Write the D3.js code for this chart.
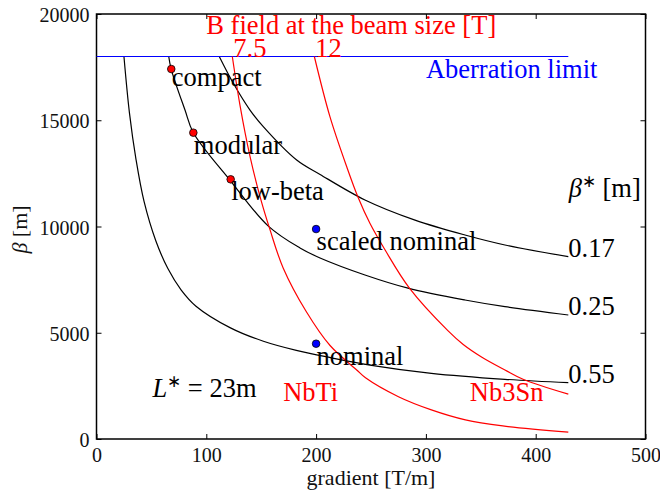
<!DOCTYPE html>
<html>
<head>
<meta charset="utf-8">
<script src="https://cdn.jsdelivr.net/npm/d3@7"></script>
<style>
    body { margin: 0; background: #fff; }
    svg { display: block; }
    svg text { font-family: 'Liberation Serif', 'Times New Roman', serif; }
</style>
</head>
<body>
<svg class="chart" width="660" height="494"></svg>
<script>
//Axis ticks
var xTicks = [0, 100, 200, 300, 400, 500];
var yTicks = [0, 5000, 10000, 15000, 20000];

//Lattice curves for each beta* value, [gradient T/m, beta m]
var betaStarNames = ['0.17', '0.25', '0.55'];
var beta017 = [[111.8, 18000], [124.6, 16740], [139.8, 15480], [151.9, 14700], [182.3, 13130], [203.6, 12450],
    [244.5, 11250], [290.1, 10300], [335.6, 9600], [372, 9130], [429.7, 8580]];
var beta025 = [[65.8, 18000], [68, 17410], [80.6, 15480], [88.2, 14410], [122.2, 12140], [156.5, 10020],
    [185.3, 8990], [203.6, 8520], [244.5, 7720], [283.7, 7100], [335.6, 6540], [372, 6226], [429.7, 5835]];
var beta055 = [[25, 18000], [30, 15350], [36, 13150], [43.3, 11180], [54, 9330], [65, 8020], [77, 7020],
    [90.6, 6250], [122, 5230], [152, 4600], [182, 4170], [213, 3830], [249, 3480], [305, 3090], [372, 2809], [429.7, 2650]];

//Field at the beam size curves
var fieldNames = ['7.5', '12'];
var field75 = [[123.7, 18000], [130.7, 15700], [139.8, 13300], [149.5, 11300], [158, 9850], [170, 8050],
    [191, 6000], [212.7, 4400], [237, 3250], [245, 2880], [275, 1990], [305, 1370], [336, 900], [370, 615], [429.7, 320]];
var field12 = [[198.4, 18000], [212.6, 15170], [227.9, 12810], [238.4, 11350], [249, 10150], [263, 8880],
    [285, 7100], [320, 5100], [334, 4450], [351, 3850], [372, 3250], [389, 2800], [429.7, 2110]];

//Aberration limit
var aberrationLimit = [[0, 18000], [429.7, 18000]];

//Layout points
var layoutNames = ['compact', 'modular', 'low-beta'];
var layoutGradient = [68.1, 88.2, 122.2];
var layoutBeta = [17410, 14415, 12220];
var nominalNames = ['scaled nominal', 'nominal'];
var nominalGradient = [200, 200];
var nominalBeta = [9880, 4485];

(function(){
    //Plot area
    var plot = {left: 96.5, right: 645.5, top: 14, bottom: 439};
    var font = "'Liberation Serif', 'Times New Roman', serif";
    var annoSize = '26.5px';

    var x = d3.scaleLinear().domain([0, 500]).range([plot.left, plot.right]);
    var y = d3.scaleLinear().domain([0, 20000]).range([plot.bottom, plot.top]);

    var svg = d3.select('.chart');

    //Curve generator for all the lines
    var line = d3.line()
        .x(function(d){ return x(d[0]); })
        .y(function(d){ return y(d[1]); })
        .curve(d3.curveCatmullRom.alpha(0.5));

    /**
     * Adds a text at a data position, with a pixel offset
     */
    var addText = function(gx, by, str, color, dx, dy){
        return svg.append('text')
            .attr('x', x(gx) + (dx || 0))
            .attr('y', y(by) + (dy || 0))
            .attr('font-family', font)
            .style('font-size', annoSize)
            .attr('fill', color)
            .text(str);
    };

    //Axes, ticks pointing inwards
    var bottom = svg.append('g')
        .attr('transform', 'translate(0,' + plot.bottom + ')')
        .call(d3.axisBottom(x).tickValues(xTicks).tickSizeInner(-5).tickSizeOuter(0).tickFormat(d3.format('d')));
    bottom.selectAll('text').attr('y', 23).attr('dy', null);

    var left = svg.append('g')
        .attr('transform', 'translate(' + plot.left + ',0)')
        .call(d3.axisLeft(y).tickValues(yTicks).tickSizeInner(-5).tickSizeOuter(0).tickFormat(d3.format('d')));
    left.selectAll('text').attr('x', -7).attr('dy', '0.38em');

    svg.append('g')
        .attr('transform', 'translate(0,' + plot.top + ')')
        .call(d3.axisTop(x).tickValues(xTicks).tickSizeInner(-5).tickSizeOuter(0).tickFormat(''));
    svg.append('g')
        .attr('transform', 'translate(' + plot.right + ',0)')
        .call(d3.axisRight(y).tickValues(yTicks).tickSizeInner(-5).tickSizeOuter(0).tickFormat(''));

    svg.selectAll('.domain').remove();
    svg.selectAll('g').attr('font-family', font).attr('font-size', null);
    svg.selectAll('.tick text')
        .style('font-size', '20px')
        .attr('fill', '#111');
    svg.selectAll('.tick line').attr('stroke-width', 1);

    //Frame
    svg.append('rect')
        .attr('x', plot.left)
        .attr('y', plot.top)
        .attr('width', plot.right - plot.left)
        .attr('height', plot.bottom - plot.top)
        .attr('fill', 'none')
        .attr('stroke', '#000')
        .attr('stroke-width', 1.5);

    //Axis titles
    svg.append('text')
        .attr('x', (plot.left + plot.right) / 2)
        .attr('y', 485)
        .attr('text-anchor', 'middle')
        .attr('font-family', font)
        .style('font-size', '22px')
        .attr('fill', '#111')
        .text('gradient [T/m]');

    var yTitle = svg.append('text')
        .attr('transform', 'translate(27,' + ((plot.top + plot.bottom) / 2 + 3) + ') rotate(-90)')
        .attr('text-anchor', 'middle')
        .attr('font-family', font)
        .style('font-size', '22px')
        .attr('fill', '#111');
    yTitle.append('tspan').style('font-style', 'italic').text('β');
    yTitle.append('tspan').text('\u00a0[m]');

    //Lattice curves
    var betaCurves = [beta017, beta025, beta055];
    betaCurves.forEach(function(c, i){
        svg.append('path')
            .attr('d', line(c))
            .attr('fill', 'none')
            .attr('stroke', '#000')
            .attr('stroke-width', 1.2);
        //Label at the end of the curve
        var last = c[c.length - 1];
        addText(last[0], last[1], betaStarNames[i], '#000', 0, 0);
    });

    //Aberration limit line
    svg.append('path')
        .attr('d', line(aberrationLimit))
        .attr('fill', 'none')
        .attr('stroke', '#0000ff')
        .attr('stroke-width', 1.2);

    //Field curves, labelled at their start on the aberration limit
    var fieldCurves = [field75, field12];
    fieldCurves.forEach(function(c, i){
        svg.append('path')
            .attr('d', line(c))
            .attr('fill', 'none')
            .attr('stroke', '#ff0000')
            .attr('stroke-width', 1.2);
        addText(c[0][0], c[0][1], fieldNames[i], '#ff0000', 1, 0);
    });

    //Layout markers with labels
    var labelDy = [17, 21, 21];
    layoutNames.forEach(function(name, i){
        svg.append('circle')
            .attr('cx', x(layoutGradient[i]))
            .attr('cy', y(layoutBeta[i]))
            .attr('r', 3.8)
            .attr('fill', '#ff0000')
            .attr('stroke', '#000')
            .attr('stroke-width', 0.8);
        addText(layoutGradient[i], layoutBeta[i], name, '#000', 0.5, labelDy[i]);
    });

    nominalNames.forEach(function(name, i){
        svg.append('circle')
            .attr('cx', x(nominalGradient[i]))
            .attr('cy', y(nominalBeta[i]))
            .attr('r', 3.8)
            .attr('fill', '#0000ff')
            .attr('stroke', '#000')
            .attr('stroke-width', 0.8);
        addText(nominalGradient[i], nominalBeta[i], name, '#000', 0.5, 21);
    });

    //Other annotations
    addText(100, 19000, 'B field at the beam size [T]', '#ff0000', 0, -1);
    addText(300, 17000, 'Aberration limit', '#0000ff', 0, 0);
    addText(170, 1800, 'NbTi', '#ff0000', 0, 0);
    addText(340, 1800, 'Nb3Sn', '#ff0000', 0, 0);

    var lStar = addText(51, 2000, '', '#000', 0, 0);
    lStar.append('tspan').style('font-style', 'italic').text('L');
    lStar.append('tspan').attr('dy', -10).style('font-size', '17px').text('∗');
    lStar.append('tspan').attr('dy', 10).text('\u00a0=\u00a023m');

    var bStar = addText(430, 11400, '', '#000', 0, 0);
    bStar.append('tspan').style('font-style', 'italic').text('β');
    bStar.append('tspan').attr('dy', -10).style('font-size', '17px').text('∗');
    bStar.append('tspan').attr('dy', 10).text('\u00a0[m]');
})();
</script>
</body>
</html>
